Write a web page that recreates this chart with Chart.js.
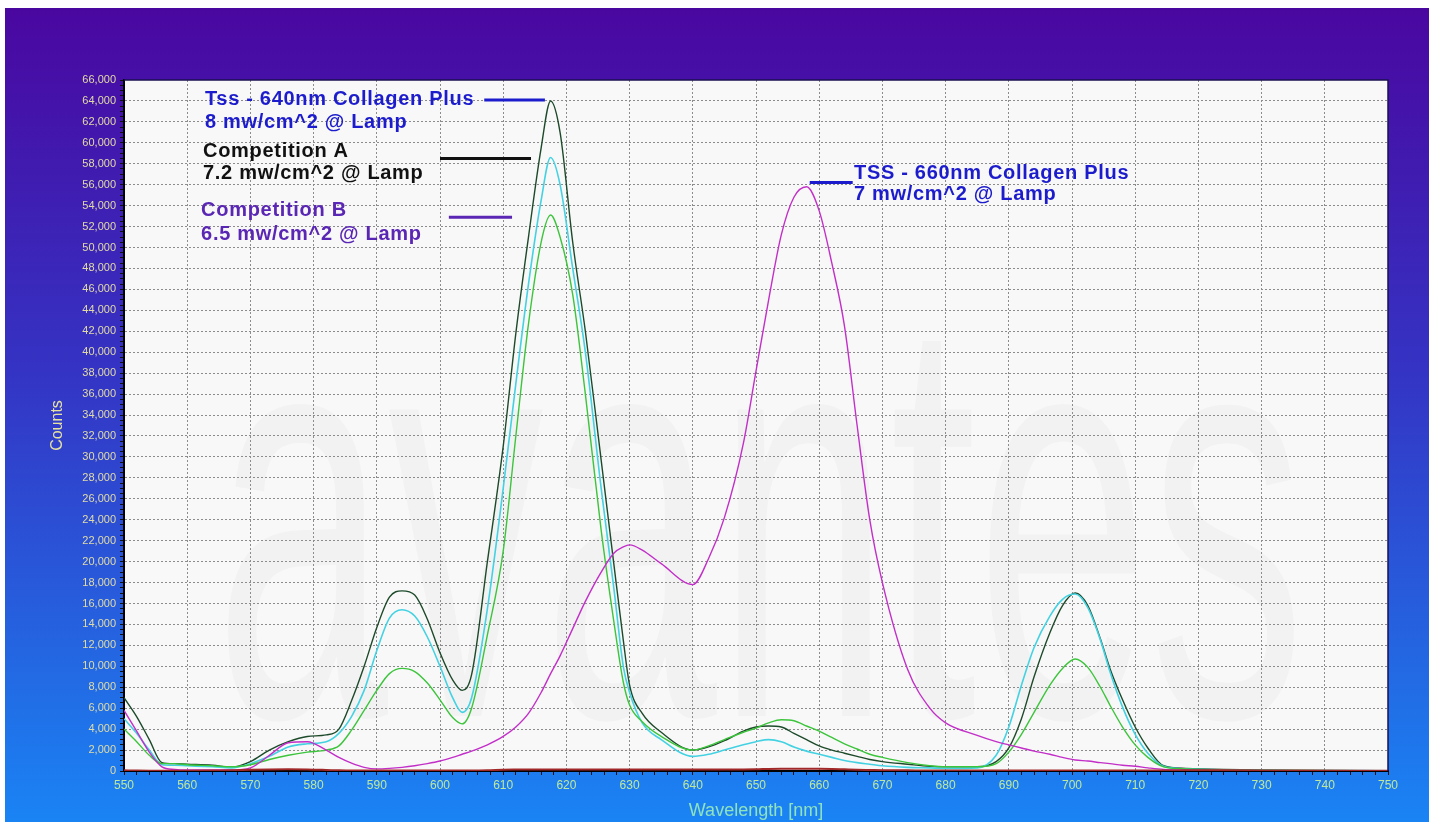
<!DOCTYPE html>
<html>
<head>
<meta charset="utf-8">
<script src="https://cdn.jsdelivr.net/npm/chart.js@4/dist/chart.umd.min.js"></script>
<style>
  html, body { margin: 0; padding: 0; background: #fff; }
  #wrap { width: 1429px; height: 822px; position: relative; }
</style>
</head>
<body>
<div id="wrap"><canvas id="spectrum"></canvas></div>
<script>
// wavelengths in nm (shared by all traces)
const wavelengths = [550, 552, 554, 556, 558, 560, 564, 567, 570, 573, 576, 579, 582, 584, 586, 588, 590, 592, 594, 596,
  598, 600, 602, 603.5, 605, 607.5, 610, 612, 614, 616, 617.5, 619, 621, 623, 625.5, 627.5, 629, 630, 632, 635,
  640, 642.5, 645, 648, 650, 652, 654, 656, 658, 660, 662, 664, 666, 668, 670, 674, 677.5, 680, 685, 688,
  690, 692, 694, 696.5, 698.5, 700.5, 702.5, 704.5, 706, 708, 710, 712, 714.5, 718, 724, 735, 750];

const tss640 = [7000, 5200, 3000, 800, 700, 650, 550, 350, 900, 2000, 2800, 3300, 3450, 4000, 6700, 10000, 13700, 16600, 17200, 16800,
  14500, 11300, 8700, 7700, 9200, 20000, 31000, 41800, 51000, 59500, 64000, 61000, 50500, 42000, 29700, 19800, 12500, 8200, 5500, 3700,
  2000, 2300, 2900, 3800, 4200, 4300, 4200, 3600, 3000, 2400, 2000, 1700, 1400, 1100, 900, 650, 450, 400, 400, 900,
  2200, 5000, 9000, 13200, 15800, 17000, 15800, 12600, 9800, 6800, 4200, 2200, 500, 250, 150, 60, 30];

const competitionA = [5000, 3600, 2000, 600, 550, 500, 400, 300, 700, 1400, 2300, 2600, 2800, 3600, 5200, 7700, 11500, 14600, 15400, 14800,
  12800, 10000, 7000, 5600, 7000, 15500, 27000, 37000, 46500, 54500, 58600, 56000, 48000, 40000, 27000, 17500, 10000, 7500, 4600, 3000,
  1400, 1600, 2000, 2500, 2800, 3000, 2800, 2300, 1900, 1600, 1300, 1000, 800, 650, 500, 350, 300, 250, 300, 1500,
  4200, 8200, 11800, 14800, 16400, 16900, 15600, 12500, 9500, 6100, 3500, 1700, 450, 200, 100, 50, 30];

const competitionB = [4000, 2800, 1500, 700, 700, 600, 500, 400, 600, 1100, 1500, 1800, 2000, 2400, 3900, 5800, 7700, 9300, 9800, 9500,
  8400, 6800, 5100, 4500, 6000, 13000, 21000, 32000, 42700, 50500, 53100, 51000, 45500, 36000, 23000, 14300, 8500, 6300, 4700, 3300,
  2000, 2400, 3000, 3700, 4100, 4600, 4900, 4800, 4300, 3800, 3200, 2600, 2100, 1600, 1300, 800, 500, 400, 400, 700,
  1800, 3500, 5600, 8200, 9800, 10700, 9900, 8000, 6300, 4200, 2500, 1300, 400, 200, 100, 50, 30];

const tss660 = [5800, 3800, 1800, 400, 150, 100, 100, 100, 300, 1500, 2700, 2800, 2000, 1300, 750, 350, 200, 250, 350, 500,
  700, 950, 1300, 1600, 1900, 2500, 3300, 4200, 5500, 7500, 9300, 11000, 13600, 16200, 19000, 20800, 21400, 21600, 21100, 19800,
  17800, 20300, 24200, 31300, 38200, 45000, 51200, 54800, 55800, 53500, 48500, 42500, 33000, 24000, 18000, 9700, 6000, 4600, 3400, 2800,
  2500, 2200, 1900, 1600, 1300, 1050, 950, 800, 700, 550, 450, 300, 150, 100, 50, 30, 20];

const darkRef = [60, 40, 30, 30, 30, 30, 40, 60, 120, 150, 160, 150, 100, 60, 40, 40, 40, 40, 40, 40,
  40, 40, 40, 40, 40, 60, 120, 140, 150, 150, 150, 150, 150, 150, 150, 150, 150, 150, 150, 150,
  150, 150, 150, 150, 160, 200, 220, 220, 220, 220, 200, 160, 120, 100, 80, 60, 40, 40, 40, 40,
  40, 40, 40, 40, 40, 40, 40, 40, 40, 40, 40, 40, 40, 60, 80, 40, 30];

const seriesNames = ["Tss - 640nm Collagen Plus", "Competition A", "Competition B", "TSS - 660nm Collagen Plus", "Dark"];

const notes = [
  { lines: ["Tss - 640nm Collagen Plus", "8 mw/cm^2 @ Lamp"], x: 562.8, y: [64100, 61900], color: "#1c1ccc", mark: [607, 616.6, 64100] },
  { lines: ["Competition A", "7.2 mw/cm^2 @ Lamp"], x: 562.5, y: [59200, 57100], color: "#111111", mark: [600, 614.4, 58500] },
  { lines: ["Competition B", "6.5 mw/cm^2 @ Lamp"], x: 562.2, y: [53500, 51200], color: "#5a26b4", mark: [601.4, 611.4, 52900] },
  { lines: ["TSS - 660nm Collagen Plus", "7 mw/cm^2 @ Lamp"], x: 665.5, y: [57100, 55100], color: "#1c1ccc", mark: [658.5, 665.3, 56200] }
];

function pts(values) {
  return wavelengths.map((w, i) => ({ x: w, y: values[i] }));
}

function line(label, values, color, width) {
  return {
    label: label,
    data: pts(values),
    borderColor: color,
    borderWidth: width,
    pointRadius: 0,
    fill: false,
    cubicInterpolationMode: "monotone"
  };
}

const backdrop = {
  id: "backdrop",
  beforeDraw(chart) {
    const ctx = chart.ctx;
    const a = chart.chartArea;
    ctx.save();
    ctx.fillStyle = "#ffffff";
    ctx.fillRect(0, 0, chart.width, chart.height);
    const g = ctx.createLinearGradient(0, 8, 0, chart.height);
    g.addColorStop(0, "#4a07a0");
    g.addColorStop(0.45, "#3434c4");
    g.addColorStop(1, "#1a84f4");
    ctx.fillStyle = g;
    ctx.fillRect(5, 8, chart.width - 5, chart.height - 8);
    ctx.fillStyle = "#f8f8f8";
    ctx.fillRect(a.left, a.top, a.right - a.left, a.bottom - a.top);
    // faint logo watermark
    ctx.beginPath();
    ctx.rect(a.left, a.top, a.right - a.left, a.bottom - a.top);
    ctx.clip();
    ctx.font = "580px 'Liberation Sans', Arial, sans-serif";
    const w = ctx.measureText("avantes").width;
    ctx.translate(215, 716);
    ctx.scale(1090 / w, 1);
    ctx.fillStyle = "rgba(110,110,135,0.045)";
    ctx.fillText("avantes", 0, 0);
    ctx.restore();
  },
  afterDraw(chart) {
    const ctx = chart.ctx;
    const a = chart.chartArea;
    const xs = chart.scales.x;
    const ys = chart.scales.y;
    ctx.save();
    ctx.strokeStyle = "#1a1050";
    ctx.lineWidth = 1.5;
    ctx.beginPath();
    ctx.moveTo(a.left, a.top);
    ctx.lineTo(a.right, a.top);
    ctx.lineTo(a.right, a.bottom);
    ctx.stroke();
    ctx.font = "bold 20px 'Liberation Sans', Arial, sans-serif";
    ctx.letterSpacing = "0.7px";
    ctx.textBaseline = "middle";
    notes.forEach(n => {
      ctx.fillStyle = n.color;
      n.lines.forEach((t, i) => ctx.fillText(t, xs.getPixelForValue(n.x), ys.getPixelForValue(n.y[i])));
      ctx.strokeStyle = n.color;
      ctx.lineWidth = 3;
      ctx.beginPath();
      ctx.moveTo(xs.getPixelForValue(n.mark[0]), ys.getPixelForValue(n.mark[2]));
      ctx.lineTo(xs.getPixelForValue(n.mark[1]), ys.getPixelForValue(n.mark[2]));
      ctx.stroke();
    });
    ctx.restore();
  }
};

new Chart(document.getElementById("spectrum"), {
  type: "line",
  data: {
    datasets: [
      line(seriesNames[4], darkRef, "#a02828", 2),
      line(seriesNames[3], tss660, "#c22fc8", 1.4),
      line(seriesNames[2], competitionB, "#3cc43c", 1.4),
      line(seriesNames[1], competitionA, "#44d2e2", 1.6),
      line(seriesNames[0], tss640, "#1d4a2a", 1.4)
    ]
  },
  options: {
    animation: false,
    responsive: true,
    maintainAspectRatio: false,
    layout: { padding: { left: 48, top: 80, right: 41, bottom: 0 } },
    plugins: { legend: { display: false }, tooltip: { enabled: false } },
    scales: {
      x: {
        type: "linear",
        min: 550,
        max: 750,
        afterFit(s) { s.height = 51; },
        border: { color: "#000000", width: 2, dash: [2, 2] },
        grid: {
          color: c => (c.tick && c.tick.value % 10 === 0 && c.tick.value > 550 && c.tick.value < 750) ? "#8c8c8c" : "rgba(0,0,0,0)",
          tickColor: "#111111",
          tickLength: 4,
          lineWidth: 1
        },
        ticks: {
          stepSize: 2,
          autoSkip: false,
          maxRotation: 0,
          padding: 3,
          color: "#bfe89c",
          font: { family: "'Liberation Sans', Arial, sans-serif", size: 12 },
          callback: v => (v % 10 === 0 ? String(v) : "")
        },
        title: {
          display: true,
          text: "Wavelength [nm]",
          color: "#8ee2bc",
          padding: { top: 0, bottom: 0 },
          font: { family: "'Liberation Sans', Arial, sans-serif", size: 18 }
        }
      },
      y: {
        min: 0,
        max: 66000,
        afterFit(s) { s.width = 76; },
        border: { color: "#000000", width: 2, dash: [2, 2] },
        grid: {
          color: c => (c.tick && c.tick.value % 2000 === 0 && c.tick.value > 0 && c.tick.value < 66000) ? "#8c8c8c" : "rgba(0,0,0,0)",
          tickColor: "#111111",
          tickLength: 4,
          lineWidth: 1
        },
        ticks: {
          stepSize: 500,
          autoSkip: false,
          padding: 4,
          color: "#e2dca4",
          font: { family: "'Liberation Sans', Arial, sans-serif", size: 11 },
          callback: v => (v % 2000 === 0 ? v.toLocaleString("en-US") : "")
        },
        title: {
          display: true,
          text: "Counts",
          color: "#e6e2a0",
          padding: { top: 0, bottom: 4 },
          font: { family: "'Liberation Sans', Arial, sans-serif", size: 16 }
        }
      }
    }
  },
  plugins: [backdrop]
});
</script>
</body>
</html>
